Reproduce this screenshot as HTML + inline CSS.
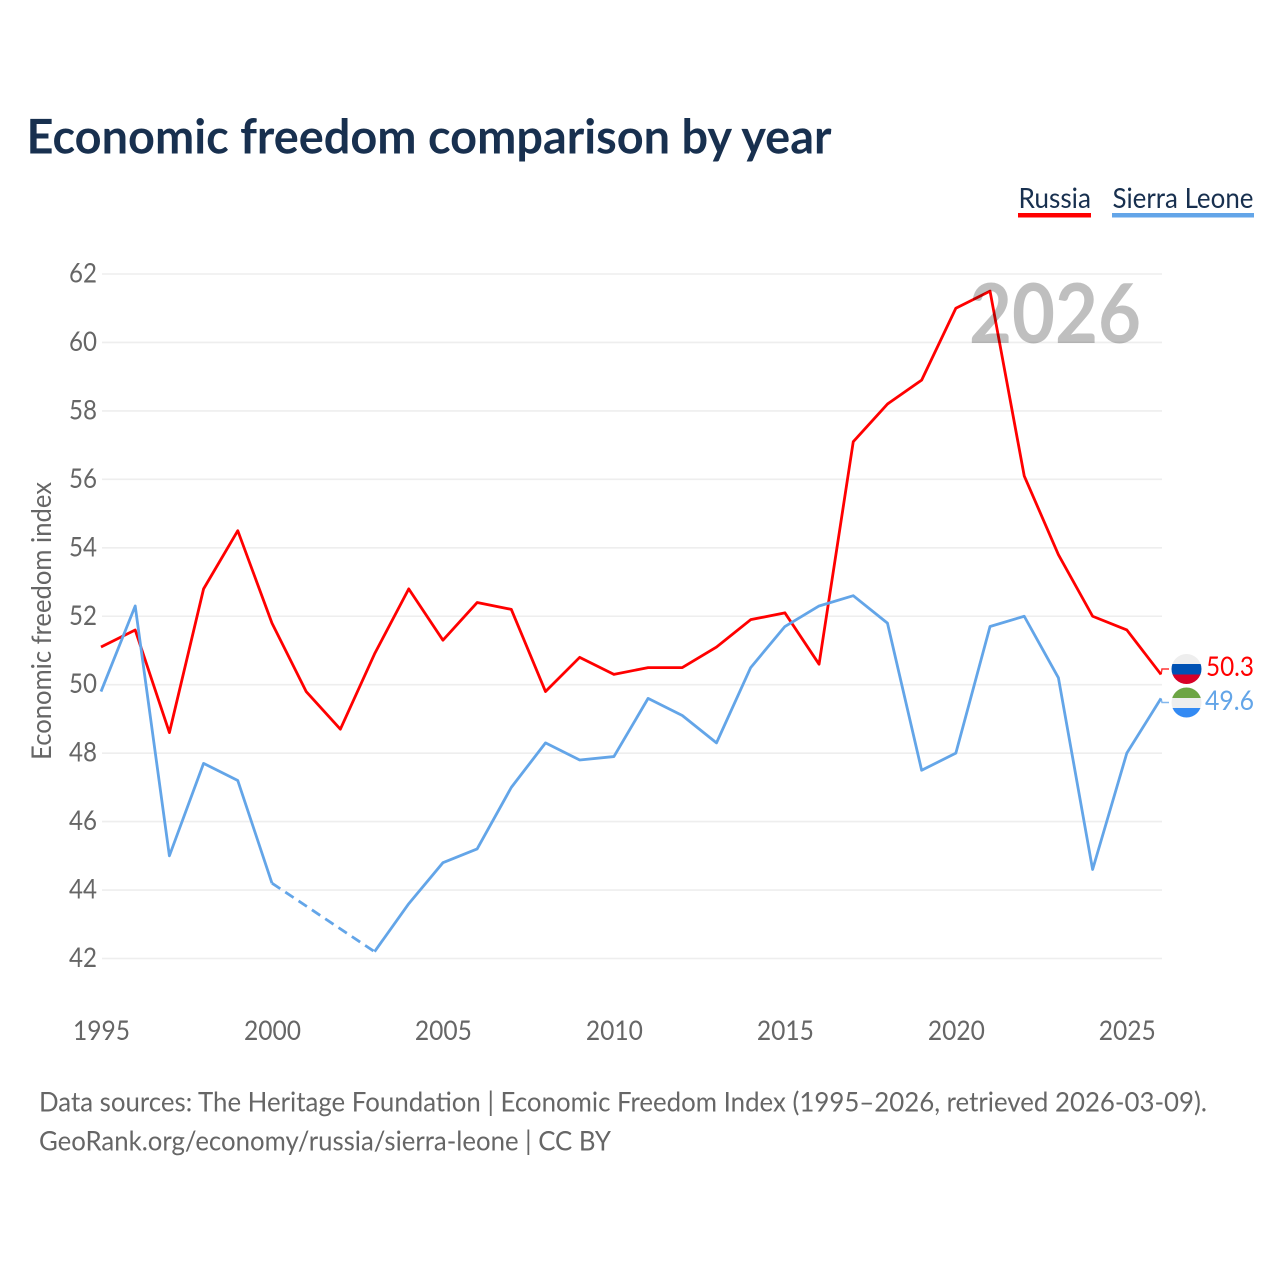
<!DOCTYPE html>
<html lang="en">
<head>
<meta charset="utf-8">
<title>Economic freedom comparison by year</title>
<style>
html,body{margin:0;padding:0;background:#fff;}
svg{display:block;}
text{font-family:"Lato","Carlito","Liberation Sans",sans-serif;}
</style>
</head>
<body>
<svg id="chart" width="1280" height="1280" viewBox="0 0 1280 1280" xmlns="http://www.w3.org/2000/svg">
  <rect width="1280" height="1280" fill="#fff"/>
  <text x="26.5" y="153.5" font-size="48" font-weight="700" fill="#18304f" textLength="805" lengthAdjust="spacingAndGlyphs">Economic freedom comparison by year</text>

  <g>
    <text x="1018.5" y="208" font-size="28.5" fill="#18304f" textLength="72.5" lengthAdjust="spacingAndGlyphs">Russia</text>
    <rect x="1018" y="213" width="73" height="4.5" fill="#ff0000"/>
  </g>
  <g>
    <text x="1112.5" y="208" font-size="28.5" fill="#18304f" textLength="141" lengthAdjust="spacingAndGlyphs">Sierra Leone</text>
    <rect x="1112" y="213" width="142" height="4.5" fill="#63a5e8"/>
  </g>

  <g id="grid"></g>
  <g id="yticks"></g>
  <g id="xticks"></g>
  <text transform="translate(51,760) rotate(-90)" font-size="27" fill="#666" textLength="278" lengthAdjust="spacingAndGlyphs">Economic freedom index</text>

  <g id="series"></g>
  <text x="969" y="343" font-size="82" font-weight="700" fill="#000" fill-opacity="0.25" textLength="172" lengthAdjust="spacingAndGlyphs">2026</text>

  <defs>
    <clipPath id="clip-ru"><circle cx="1186.5" cy="669" r="15"/></clipPath>
    <clipPath id="clip-sl"><circle cx="1186.5" cy="702.5" r="15"/></clipPath>
  </defs>
  <g clip-path="url(#clip-ru)">
    <rect x="1171" y="653" width="31" height="11" fill="#eeeeee"/>
    <rect x="1171" y="664" width="31" height="10.5" fill="#0052b4"/>
    <rect x="1171" y="674.5" width="31" height="11" fill="#d80027"/>
  </g>
  <g clip-path="url(#clip-sl)">
    <rect x="1171" y="687" width="31" height="11" fill="#6da544"/>
    <rect x="1171" y="698" width="31" height="10" fill="#eeeeee"/>
    <rect x="1171" y="708" width="31" height="11" fill="#338af3"/>
  </g>
  <text x="1206" y="676" font-size="27" fill="#ff0000" textLength="48" lengthAdjust="spacingAndGlyphs">50.3</text>
  <text x="1205" y="710" font-size="27" fill="#63a5e8" textLength="49" lengthAdjust="spacingAndGlyphs">49.6</text>

  <text x="39" y="1111.5" font-size="27.5" fill="#666" textLength="1168" lengthAdjust="spacingAndGlyphs">Data sources: The Heritage Foundation | Economic Freedom Index (1995–2026, retrieved 2026-03-09).</text>
  <text x="39" y="1150.5" font-size="27.5" fill="#666" textLength="572" lengthAdjust="spacingAndGlyphs">GeoRank.org/economy/russia/sierra-leone | CC BY</text>
</svg>
<script>
const years = [1995,1996,1997,1998,1999,2000,2001,2002,2003,2004,2005,2006,2007,2008,2009,2010,2011,2012,2013,2014,2015,2016,2017,2018,2019,2020,2021,2022,2023,2024,2025,2026];
const russiaValues = [51.1,51.6,48.6,52.8,54.5,51.8,49.8,48.7,50.9,52.8,51.3,52.4,52.2,49.8,50.8,50.3,50.5,50.5,51.1,51.9,52.1,50.6,57.1,58.2,58.9,61.0,61.5,56.1,53.8,52.0,51.6,50.3];
const sierraLeoneValues = [49.8,52.3,45.0,47.7,47.2,44.2,null,null,42.2,43.6,44.8,45.2,47.0,48.3,47.8,47.9,49.6,49.1,48.3,50.5,51.7,52.3,52.6,51.8,47.5,48.0,51.7,52.0,50.2,44.6,48.0,49.6];
const yTickValues = [42,44,46,48,50,52,54,56,58,60,62];
const xTickValues = [1995,2000,2005,2010,2015,2020,2025];

const NS = 'http://www.w3.org/2000/svg';
const xLeft = 101, xRight = 1161, yTop = 274, yBottom = 958.5;
const gridLeft = 102, gridRight = 1162;
function xScale(year) { return xLeft + (year - years[0]) / (years[years.length - 1] - years[0]) * (xRight - xLeft); }
function yScale(value) { return yBottom - (value - 42) / 20 * (yBottom - yTop); }
function make(tag, attrs, parent) {
  const el = document.createElementNS(NS, tag);
  for (const k in attrs) el.setAttribute(k, attrs[k]);
  parent.appendChild(el);
  return el;
}
const grid = document.getElementById('grid');
const yticks = document.getElementById('yticks');
const xticks = document.getElementById('xticks');
const series = document.getElementById('series');

yTickValues.forEach(function (v) {
  const line = make('line', {x1: gridLeft, x2: gridRight, y1: yScale(v), y2: yScale(v), stroke: '#eeeeee', 'stroke-width': 1.6}, grid);
  
  
  const label = make('text', {x: 97, y: yScale(v) + 8.5, 'text-anchor': 'end', 'font-size': 27, fill: '#666', textLength: 28, lengthAdjust: 'spacingAndGlyphs'}, yticks);
  label.textContent = v;
  
  
});
xTickValues.forEach(function (y) {
  const label = make('text', {x: xScale(y) + 0.5, y: 1040, 'text-anchor': 'middle', 'font-size': 27, fill: '#666', textLength: 57, lengthAdjust: 'spacingAndGlyphs'}, xticks);
  label.textContent = y;
  
  
});

function drawSeries(values, color, name, labelY) {
  let run = [];
  let lastPoint = null;
  function flush() {
    if (run.length > 1) {
      const solid = make('polyline', {points: run.join(' '), fill: 'none', stroke: color, 'stroke-width': 2.8, 'stroke-linejoin': 'round'}, series);
      
      
    }
    run = [];
  }
  let gap = false;
  values.forEach(function (v, i) {
    if (v === null) {
      if (!gap) flush();
      gap = true;
      return;
    }
    const px = xScale(years[i]);
    const py = yScale(v);
    if (gap && lastPoint) {
      const dash = make('line', {x1: lastPoint[0], y1: lastPoint[1], x2: px, y2: py, stroke: color, 'stroke-width': 2.8, 'stroke-dasharray': '10 6'}, series);
      
      
    }
    gap = false;
    run.push(px + ',' + py);
    lastPoint = [px, py];
  });
  flush();
  const connector = make('polyline', {points: lastPoint[0] + ',' + lastPoint[1] + ' ' + (lastPoint[0] + 1) + ',' + labelY + ' 1169,' + labelY, fill: 'none', stroke: color, 'stroke-width': 1.5, 'stroke-opacity': 0.8}, series);
  
  
}
drawSeries(russiaValues, '#ff0000', 'russia', 669);
drawSeries(sierraLeoneValues, '#63a5e8', 'sierra-leone', 702.5);
</script>
</body>
</html>
